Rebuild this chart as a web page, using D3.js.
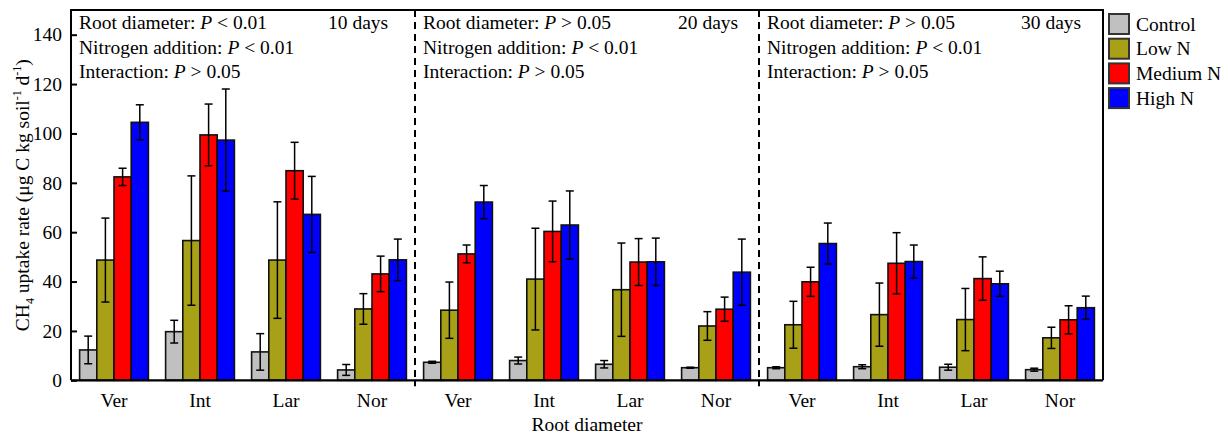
<!DOCTYPE html>
<html>
<head>
<meta charset="utf-8">
<script src="https://cdn.jsdelivr.net/npm/d3@7/dist/d3.min.js"></script>
<style>
  body { margin: 0; background: #fff; }
  svg { display: block; }
  text { font-family: "Liberation Serif", "Times New Roman", serif; fill: #000; }
</style>
</head>
<body>
<svg id="chart" width="1228" height="437"></svg>
<script>
// ---------- data ----------
const panels = ["10 days", "20 days", "30 days"];
const roots = ["Ver", "Int", "Lar", "Nor"];
const series = ["Control", "Low N", "Medium N", "High N"];
const colors = ["#c0c0c0", "#a8a118", "#ff0000", "#0000ff"];
const yTicks = [0, 20, 40, 60, 80, 100, 120, 140];

// means per panel, rows = roots, cols = series
const means10 = [[12.3, 48.7, 82.4, 104.5], [19.7, 56.6, 99.4, 97.3], [11.5, 48.7, 84.9, 67.2], [4.2, 28.9, 43.1, 48.8]];
const errs10  = [[5.6, 17.0, 3.5, 7.1], [4.6, 26.2, 12.5, 20.7], [7.4, 23.6, 11.5, 15.4], [2.2, 6.2, 7.2, 8.4]];
const means20 = [[7.3, 28.4, 51.2, 72.2], [8.0, 41.0, 60.3, 62.9], [6.5, 36.7, 47.9, 48.0], [5.1, 22.0, 28.8, 43.8]];
const errs20  = [[0.4, 11.4, 3.6, 6.7], [1.4, 20.6, 12.3, 13.8], [1.5, 18.9, 9.5, 9.6], [0.2, 5.8, 4.9, 13.4]];
const means30 = [[5.1, 22.5, 39.9, 55.4], [5.5, 26.6, 47.4, 48.1], [5.3, 24.6, 41.2, 39.1], [4.3, 17.2, 24.5, 29.4]];
const errs30  = [[0.4, 9.5, 5.9, 8.3], [0.8, 12.8, 12.4, 6.7], [1.2, 12.6, 8.8, 5.1], [0.6, 4.3, 5.7, 4.7]];

const statsRoot = ["P < 0.01", "P > 0.05", "P > 0.05"];
const statsN = ["P < 0.01", "P < 0.01", "P < 0.01"];
const statsInt = ["P > 0.05", "P > 0.05", "P > 0.05"];

const allMeans = [means10, means20, means30];
const allErrs = [errs10, errs20, errs30];

// ---------- layout ----------
const FS = "19.5px";
const svg = d3.select("#chart");
const L = 71, R = 1103, T = 10, B = 380.3;

const groups = [];
panels.forEach((p, pi) => roots.forEach((r, ri) => groups.push({ key: pi + "-" + r, panel: pi, root: r, ri })));

const x = d3.scaleBand().domain(groups.map(g => g.key)).range([L, R]).paddingInner(0.2).paddingOuter(0.1);
const xs = d3.scaleBand().domain(series).range([0, x.bandwidth()]).padding(0);
const y = d3.scaleLinear().domain([0, 150]).range([B, T]);

// bars & error bars
const bars = [];
groups.forEach(g => {
  series.forEach((s, si) => {
    bars.push({ g, s, si, v: allMeans[g.panel][g.ri][si], e: allErrs[g.panel][g.ri][si] });
  });
});

const gb = svg.append("g");
gb.selectAll("rect").data(bars).join("rect")
  .attr("x", d => x(d.g.key) + xs(d.s))
  .attr("y", d => y(d.v))
  .attr("width", xs.bandwidth())
  .attr("height", d => y(0) - y(d.v))
  .attr("fill", d => colors[d.si])
  .attr("stroke", "#111")
  .attr("stroke-width", 1.6);

const ge = svg.append("g").attr("stroke", "#000").attr("stroke-width", 1.5);
bars.forEach(d => {
  const cx = x(d.g.key) + xs(d.s) + xs.bandwidth() / 2;
  const y1 = y(d.v + d.e), y2 = y(d.v - d.e);
  ge.append("line").attr("x1", cx).attr("x2", cx).attr("y1", y1).attr("y2", y2);
  ge.append("line").attr("x1", cx - 4).attr("x2", cx + 4).attr("y1", y1).attr("y2", y1);
  ge.append("line").attr("x1", cx - 4).attr("x2", cx + 4).attr("y1", y2).attr("y2", y2);
});

// frame
svg.append("path")
  .attr("d", `M${L},${B}V${T}H${R}V${B}`)
  .attr("fill", "none").attr("stroke", "#000").attr("stroke-width", 2);

// y axis
const yAxis = d3.axisLeft(y).tickValues(yTicks).tickSize(-6).tickPadding(9);
const gy = svg.append("g").attr("transform", `translate(${L},0)`).call(yAxis);
gy.select(".domain").remove();
gy.selectAll(".tick line").attr("stroke", "#000").attr("stroke-width", 2);
gy.selectAll(".tick text").style("font-family", "Liberation Serif").style("font-size", FS).attr("fill", "#000");

// x axis (bottom)
const xAxis = d3.axisBottom(x).tickSize(0).tickPadding(13).tickFormat(k => k.split("-")[1]);
const gx = svg.append("g").attr("transform", `translate(0,${B})`).call(xAxis);
gx.select(".domain").attr("stroke", "#000").attr("stroke-width", 2.2).attr("d", `M${L},0H${R}`);
gx.selectAll(".tick text").style("font-family", "Liberation Serif").style("font-size", FS).attr("fill", "#000");

// panel separators
const step = x.step();
[1, 2].forEach(i => {
  const sx = L + i * roots.length * step;
  svg.append("line").attr("x1", sx).attr("x2", sx).attr("y1", T).attr("y2", B)
    .attr("stroke", "#000").attr("stroke-width", 2).attr("stroke-dasharray", "7,5");
  svg.append("line").attr("x1", sx).attr("x2", sx).attr("y1", B).attr("y2", B + 6)
    .attr("stroke", "#000").attr("stroke-width", 2);
});

// panel annotations
const daysOffset = [257, 263, 262];
panels.forEach((p, pi) => {
  const px = L + pi * roots.length * step;
  const lines = [["Root diameter: ", statsRoot[pi]], ["Nitrogen addition: ", statsN[pi]], ["Interaction: ", statsInt[pi]]];
  lines.forEach((ln, li) => {
    const t = svg.append("text").attr("x", px + 8).attr("y", 29 + li * 24.5).style("font-size", FS);
    t.append("tspan").text(ln[0]);
    t.append("tspan").style("font-style", "italic").text(ln[1].slice(0, 1));
    t.append("tspan").text(ln[1].slice(1));
  });
  svg.append("text").attr("x", px + daysOffset[pi]).attr("y", 29).style("font-size", FS).text(p);
});

// y title
const yt = svg.append("text").attr("transform", `translate(29,${(T + B) / 2}) rotate(-90)`)
  .attr("text-anchor", "middle").style("font-size", FS);
yt.append("tspan").text("CH");
yt.append("tspan").attr("dy", 5).style("font-size", "12px").text("4");
yt.append("tspan").attr("dy", -5).text(" uptake rate (μg C kg soil");
yt.append("tspan").attr("dy", -8).style("font-size", "12px").text("-1");
yt.append("tspan").attr("dy", 8).text(" d");
yt.append("tspan").attr("dy", -8).style("font-size", "12px").text("-1");
yt.append("tspan").attr("dy", 8).text(")");

// x title
svg.append("text").attr("x", (L + R) / 2).attr("y", 431).attr("text-anchor", "middle")
  .style("font-size", FS).text("Root diameter");

// legend
const lg = svg.append("g").attr("transform", "translate(1109,14)");
series.forEach((s, i) => {
  const row = lg.append("g").attr("transform", `translate(0,${i * 24.7})`);
  row.append("rect").attr("width", 20).attr("height", 20).attr("fill", colors[i])
    .attr("stroke", "#333").attr("stroke-width", 2);
  row.append("text").attr("x", 27).attr("y", 16.5).style("font-size", FS).text(s);
});
</script>
</body>
</html>
